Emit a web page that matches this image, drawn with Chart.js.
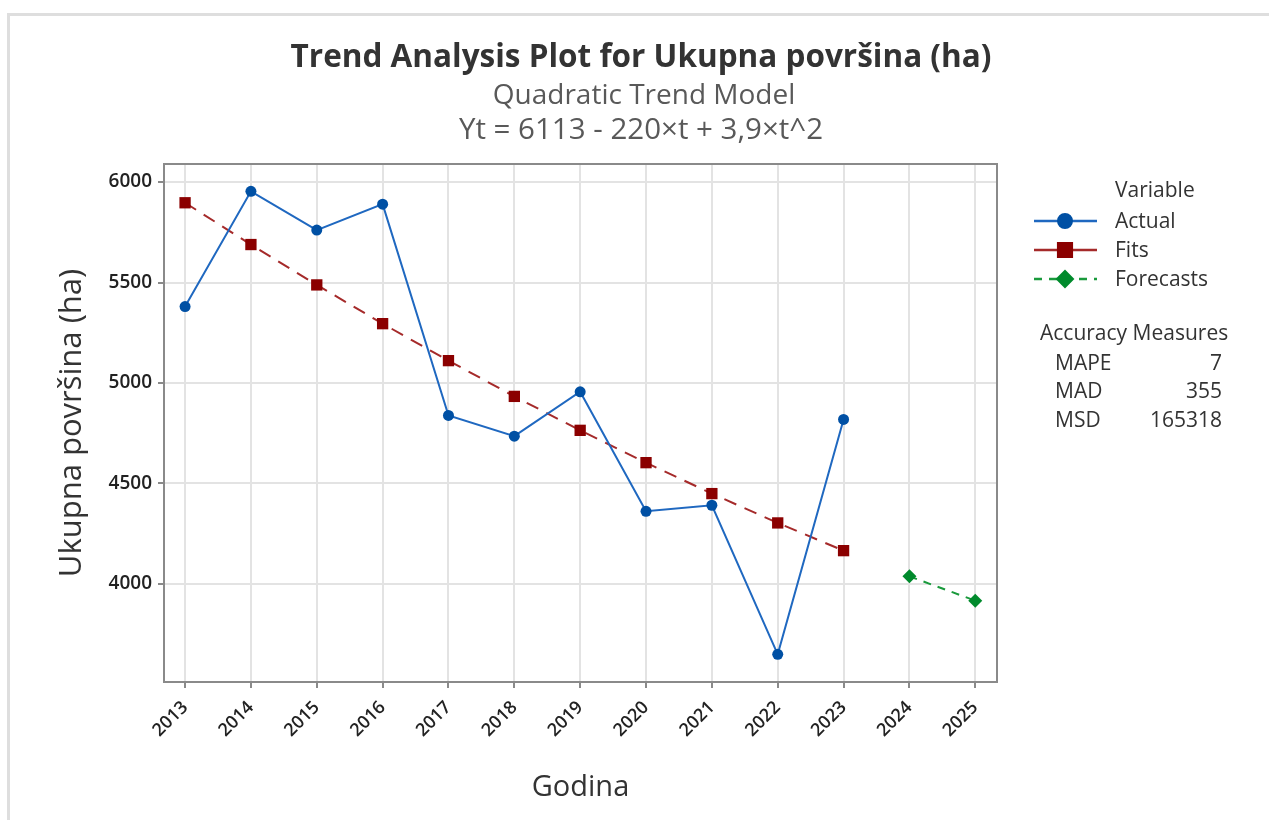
<!DOCTYPE html>
<html>
<head>
<meta charset="utf-8">
<script src="https://cdn.jsdelivr.net/npm/chart.js@4"></script>
<style>
  body { margin: 0; background: #fff; }
  #wrap { width: 1269px; height: 820px; position: relative; }
</style>
</head>
<body>
<div id="wrap"><canvas id="trendChart"></canvas></div>
<script>
// ============ DATA ============
const years = [2013, 2014, 2015, 2016, 2017, 2018, 2019, 2020, 2021, 2022, 2023, 2024, 2025];
const fitYears = [2013, 2014, 2015, 2016, 2017, 2018, 2019, 2020, 2021, 2022, 2023];
const forecastYears = [2024, 2025];
const actualValues = [5380, 5954, 5761, 5890, 4838, 4735, 4956, 4361, 4391, 3649, 4818];
const fitValues = [5897, 5689, 5488, 5295, 5111, 4933, 4764, 4603, 4449, 4303, 4165];
const forecastValues = [4037, 3916];
const yTicks = [4000, 4500, 5000, 5500, 6000];
const accuracy = [["MAPE", "7"], ["MAD", "355"], ["MSD", "165318"]];

const FONT = "'Open Sans', 'Noto Sans', sans-serif";
const BLUE = "#1f68c0";
const BLUE_DOT = "#0050a4";
const RED = "#a52a2a";
const RED_DOT = "#8b0000";
const GREEN = "#1a9a3c";
const GREEN_DOT = "#008a2c";

const toPoints = (xs, ys) => xs.map((x, i) => ({ x, y: ys[i] }));

// ============ EXTRA DRAWING ============
const decor = {
  id: "decor",
  beforeDraw(chart) {
    const ctx = chart.ctx;
    ctx.save();
    ctx.fillStyle = "#ffffff";
    ctx.fillRect(0, 0, chart.width, chart.height);
    ctx.fillStyle = "#dedede";
    ctx.fillRect(7, 13, chart.width - 7, 3);
    ctx.fillRect(7, 13, 3, chart.height - 13);
    ctx.restore();
  },
  afterDraw(chart) {
    const ctx = chart.ctx;
    const a = chart.chartArea;
    ctx.save();
    // plot frame
    ctx.strokeStyle = "#8a8a8a";
    ctx.lineWidth = 2;
    ctx.strokeRect(a.left, a.top, a.right - a.left, a.bottom - a.top);

    // titles
    ctx.textAlign = "center";
    ctx.textBaseline = "middle";
    ctx.fillStyle = "#333333";
    ctx.font = "bold 31.5px " + FONT;
    ctx.fillText("Trend Analysis Plot for Ukupna površina (ha)", 641, 58);
    ctx.fillStyle = "#595959";
    ctx.font = "28px " + FONT;
    ctx.fillText("Quadratic Trend Model", 644, 96);
    ctx.font = "29.5px " + FONT;
    ctx.fillText("Yt = 6113 - 220×t + 3,9×t^2", 641, 131);

    // legend
    ctx.textAlign = "left";
    ctx.fillStyle = "#333333";
    ctx.font = "21px " + FONT;
    ctx.fillText("Variable", 1115, 191);
    const rows = [
      { label: "Actual", y: 221, color: BLUE, dot: BLUE_DOT, style: "circle", r: 7, dash: [] },
      { label: "Fits", y: 250, color: RED, dot: RED_DOT, style: "rect", r: 10, dash: [] },
      { label: "Forecasts", y: 279, color: GREEN, dot: GREEN_DOT, style: "rectRot", r: 8, dash: [8, 7] }
    ];
    rows.forEach((row) => {
      ctx.save();
      ctx.strokeStyle = row.color;
      ctx.lineWidth = 2.5;
      ctx.setLineDash(row.dash);
      ctx.beginPath();
      ctx.moveTo(1034, row.y);
      ctx.lineTo(1097, row.y);
      ctx.stroke();
      ctx.restore();
      ctx.fillStyle = row.dot;
      ctx.strokeStyle = row.dot;
      Chart.helpers.drawPoint(ctx, { pointStyle: row.style, radius: row.r, borderWidth: 1 }, 1065, row.y);
      ctx.fill();
      ctx.fillStyle = "#333333";
      ctx.fillText(row.label, 1115, row.y + 1);
    });

    ctx.fillText("Accuracy Measures", 1040, 334);
    accuracy.forEach((m, i) => {
      const y = 364 + i * 28.5;
      ctx.textAlign = "left";
      ctx.fillText(m[0], 1055, y);
      ctx.textAlign = "right";
      ctx.fillText(m[1], 1222, y);
    });
    ctx.restore();
  }
};

// ============ CHART ============
const ctx = document.getElementById("trendChart").getContext("2d");
new Chart(ctx, {
  type: "line",
  data: {
    datasets: [
      {
        label: "Actual",
        data: toPoints(fitYears, actualValues),
        borderColor: BLUE,
        backgroundColor: BLUE_DOT,
        borderWidth: 2,
        pointStyle: "circle",
        pointRadius: 5.5,
        pointBorderWidth: 0,
        tension: 0
      },
      {
        label: "Fits",
        data: toPoints(fitYears, fitValues),
        borderColor: RED,
        backgroundColor: RED_DOT,
        borderWidth: 2,
        borderDash: [13, 9],
        pointStyle: "rect",
        pointRadius: 8,
        pointBorderWidth: 0,
        tension: 0
      },
      {
        label: "Forecasts",
        data: toPoints(forecastYears, forecastValues),
        borderColor: GREEN,
        backgroundColor: GREEN_DOT,
        borderWidth: 2,
        borderDash: [8, 7],
        pointStyle: "rectRot",
        pointRadius: 7,
        pointBorderWidth: 0,
        tension: 0
      }
    ]
  },
  options: {
    responsive: true,
    maintainAspectRatio: false,
    animation: false,
    layout: { padding: { top: 164, right: 272, left: 0, bottom: 0 } },
    plugins: {
      legend: { display: false },
      tooltip: { enabled: false }
    },
    scales: {
      x: {
        type: "linear",
        min: 2012.68,
        max: 2025.33,
        afterBuildTicks: (s) => { s.ticks = years.map((v) => ({ value: v })); },
        afterFit: (s) => { s.height = 138; },
        ticks: {
          autoSkip: false,
          minRotation: 45,
          maxRotation: 45,
          padding: 9,
          color: "#222222",
          font: { family: FONT, size: 18, weight: "600" },
          callback: (v) => String(v)
        },
        grid: { color: "#e3e3e3", lineWidth: 2, tickLength: 6, tickColor: "#8a8a8a", tickWidth: 2 },
        border: { display: true, color: "#8a8a8a", width: 2 },
        title: {
          display: true,
          text: "Godina",
          color: "#333333",
          font: { family: FONT, size: 29 },
          padding: { top: 0, bottom: 15 }
        }
      },
      y: {
        min: 3511,
        max: 6090,
        afterBuildTicks: (s) => { s.ticks = yTicks.map((v) => ({ value: v })); },
        afterFit: (s) => { s.width = 164; },
        ticks: {
          padding: 6,
          color: "#222222",
          font: { family: FONT, size: 19, weight: "600" },
          callback: (v) => String(v)
        },
        grid: { color: "#e3e3e3", lineWidth: 2, tickLength: 6, tickColor: "#8a8a8a", tickWidth: 2 },
        border: { display: true, color: "#8a8a8a", width: 2 },
        title: {
          display: true,
          text: "Ukupna površina (ha)",
          color: "#333333",
          font: { family: FONT, size: 31 },
          padding: { top: 54, bottom: 0 }
        }
      }
    }
  },
  plugins: [decor]
});
</script>
</body>
</html>
